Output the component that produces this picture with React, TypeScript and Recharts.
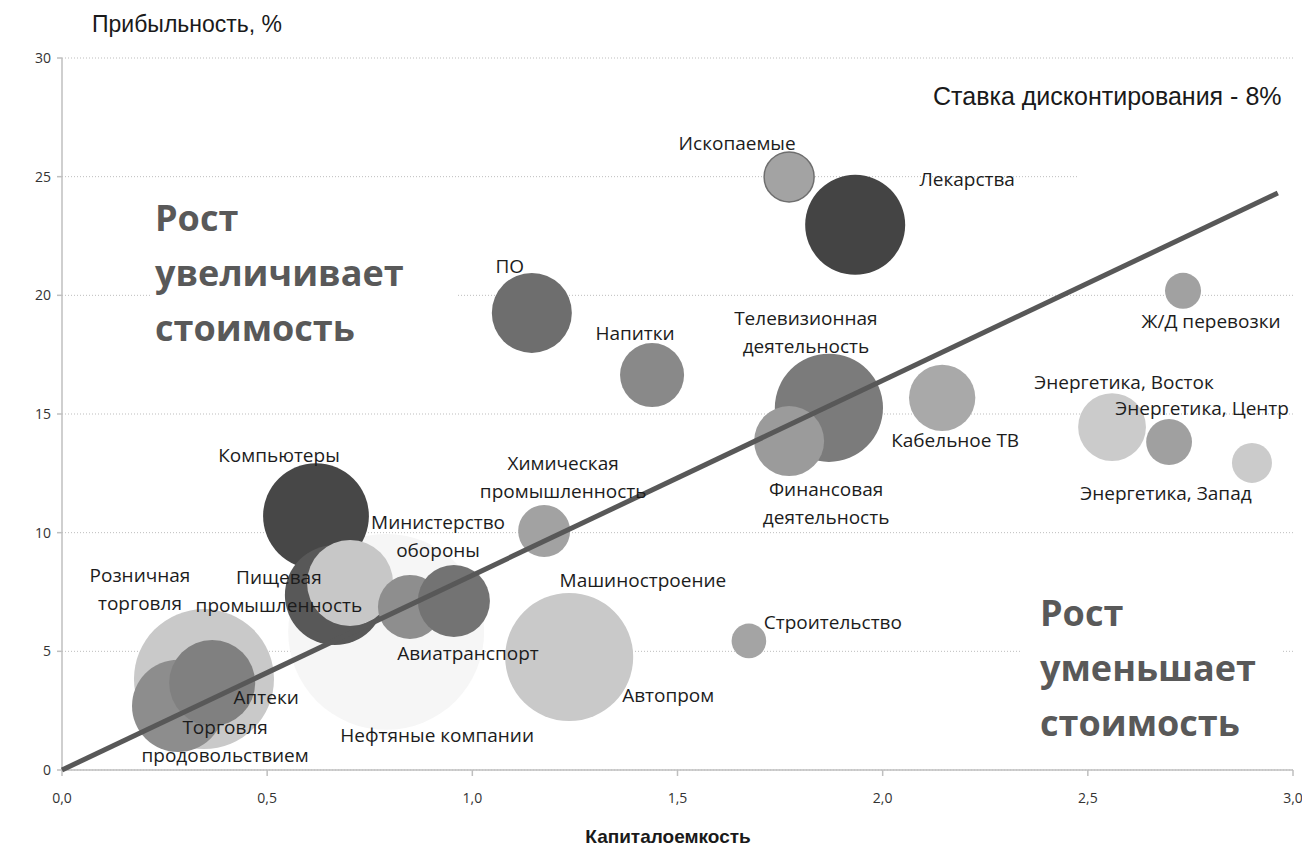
import { ScatterChart, Scatter, XAxis, YAxis, ZAxis, CartesianGrid } from 'recharts';

// Sectors in drawing order (later ones sit on top)
const SECTORS = [
  'Нефтяные компании',
  'Розничная торговля',
  'Торговля продовольствием',
  'Аптеки',
  'Компьютеры',
  'Пищевая промышленность',
  'Министерство обороны',
  'Авиатранспорт',
  'Машиностроение',
  'Автопром',
  'Строительство',
  'Химическая промышленность',
  'ПО',
  'Напитки',
  'Ископаемые',
  'Лекарства',
  'Телевизионная деятельность',
  'Финансовая деятельность',
  'Кабельное ТВ',
  'Ж/Д перевозки',
  'Энергетика, Восток',
  'Энергетика, Центр',
  'Энергетика, Запад',
];

// Капиталоемкость
const CAPITAL_INTENSITY = [
  0.79, 0.346, 0.283, 0.366, 0.619, 0.665, 0.702, 0.848, 0.955, 1.236, 1.674, 1.175,
  1.145, 1.438, 1.772, 1.933, 1.869, 1.772, 2.145, 2.732, 2.559, 2.698, 2.9,
];

// Прибыльность, %
const PROFITABILITY = [
  5.82, 3.83, 2.7, 3.67, 10.7, 7.37, 7.88, 6.87, 7.12, 4.76, 5.44, 10.07,
  19.26, 16.64, 24.99, 22.97, 15.26, 13.86, 15.68, 20.19, 14.45, 13.82, 12.94,
];

// bubble size (relative sector volume)
const VOLUME = [
  384, 196, 85, 74, 112, 100, 74, 41, 52, 164, 12, 27,
  64, 41, 25, 100, 117, 49, 44, 13, 46, 21, 16,
];

// break-even line for the 8% discount rate
const TREND_X = [0, 2.963];
const TREND_Y = [0, 24.31];

const X_TICKS = [0, 0.5, 1, 1.5, 2, 2.5, 3];
const Y_TICKS = [0, 5, 10, 15, 20, 25, 30];

const SHADES: Record<string, string> = {
  'Нефтяные компании': '#f6f6f6',
  'Розничная торговля': '#c9c9c9',
  'Торговля продовольствием': '#8d8d8d',
  'Аптеки': '#808080',
  'Компьютеры': '#474747',
  'Пищевая промышленность': '#585858',
  'Министерство обороны': '#c7c7c7',
  'Авиатранспорт': '#8e8e8e',
  'Машиностроение': '#737373',
  'Автопром': '#c9c9c9',
  'Строительство': '#a4a4a4',
  'Химическая промышленность': '#a2a2a2',
  'ПО': '#6e6e6e',
  'Напитки': '#898989',
  'Ископаемые': '#a3a3a3',
  'Лекарства': '#444444',
  'Телевизионная деятельность': '#7b7b7b',
  'Финансовая деятельность': '#9b9b9b',
  'Кабельное ТВ': '#a9a9a9',
  'Ж/Д перевозки': '#a1a1a1',
  'Энергетика, Восток': '#cbcbcb',
  'Энергетика, Центр': '#a0a0a0',
  'Энергетика, Запад': '#cbcbcb',
};

const OUTLINED = new Set(['Ископаемые']);

// label placement relative to the bubble centre (first line centre, px)
const LABELS: Record<string, { dx: number; dy: number; lines: string[] }> = {
  'Нефтяные компании': { dx: 51, dy: 103, lines: ['Нефтяные компании'] },
  'Розничная торговля': { dx: -64, dy: -104, lines: ['Розничная', 'торговля'] },
  'Торговля продовольствием': { dx: 47, dy: 21, lines: ['Торговля', 'продовольствием'] },
  'Аптеки': { dx: 54, dy: 14, lines: ['Аптеки'] },
  'Компьютеры': { dx: -37, dy: -61, lines: ['Компьютеры'] },
  'Пищевая промышленность': { dx: -56, dy: -18, lines: ['Пищевая', 'промышленность'] },
  'Министерство обороны': { dx: 88, dy: -61, lines: ['Министерство', 'обороны'] },
  'Авиатранспорт': { dx: 58, dy: 46, lines: ['Авиатранспорт'] },
  'Машиностроение': { dx: 189, dy: -21, lines: ['Машиностроение'] },
  'Автопром': { dx: 99, dy: 38, lines: ['Автопром'] },
  'Строительство': { dx: 84, dy: -19, lines: ['Строительство'] },
  'Химическая промышленность': { dx: 19, dy: -68, lines: ['Химическая', 'промышленность'] },
  'ПО': { dx: -22, dy: -47, lines: ['ПО'] },
  'Напитки': { dx: -17, dy: -42, lines: ['Напитки'] },
  'Ископаемые': { dx: -52, dy: -34, lines: ['Ископаемые'] },
  'Лекарства': { dx: 112, dy: -45, lines: ['Лекарства'] },
  'Телевизионная деятельность': { dx: -23, dy: -89, lines: ['Телевизионная', 'деятельность'] },
  'Финансовая деятельность': { dx: 37, dy: 48, lines: ['Финансовая', 'деятельность'] },
  'Кабельное ТВ': { dx: 13, dy: 42, lines: ['Кабельное ТВ'] },
  'Ж/Д перевозки': { dx: 28, dy: 31, lines: ['Ж/Д перевозки'] },
  'Энергетика, Восток': { dx: 12, dy: -45, lines: ['Энергетика, Восток'] },
  'Энергетика, Центр': { dx: 33, dy: -34, lines: ['Энергетика, Центр'] },
  'Энергетика, Запад': { dx: -86, dy: 30, lines: ['Энергетика, Запад'] },
};

const LABEL_FONT = '"Open Sans", "Noto Sans", sans-serif';
const ARIAL = '"Liberation Sans", Arial, sans-serif';

const sectors = SECTORS.map((name, i) => ({
  name,
  x: CAPITAL_INTENSITY[i],
  y: PROFITABILITY[i],
  z: VOLUME[i],
}));

const trend = TREND_X.map((x, i) => ({ x, y: TREND_Y[i], z: 0 }));

function Bubble(props: any) {
  const { cx, cy, width, payload } = props;
  const outlined = OUTLINED.has(payload.name);
  return (
    <circle
      cx={cx}
      cy={cy}
      r={width / 2}
      fill={SHADES[payload.name]}
      stroke={outlined ? '#6f6f6f' : 'none'}
      strokeWidth={outlined ? 1.5 : 0}
    />
  );
}

function SectorLabel(props: any) {
  const { cx, cy, payload } = props;
  const spec = LABELS[payload.name];
  if (!spec) return <g />;
  return (
    <text textAnchor="middle" fontFamily={LABEL_FONT} fontSize={19} fill="#1c1c1c">
      {spec.lines.map((line, i) => (
        <tspan key={i} x={cx + spec.dx} y={cy + spec.dy + i * 28} dy="0.35em">
          {line}
        </tspan>
      ))}
    </text>
  );
}

const growthText: React.CSSProperties = {
  position: 'absolute',
  background: '#fff',
  color: '#595959',
  fontFamily: LABEL_FONT,
  fontWeight: 700,
  fontSize: 36,
  lineHeight: '55px',
  whiteSpace: 'nowrap',
};

export default function App() {
  return (
    <div
      style={{
        position: 'absolute',
        left: 0,
        top: 0,
        width: 1302,
        height: 848,
        background: '#fff',
        overflow: 'hidden',
      }}
    >
      <ScatterChart width={1302} height={848} margin={{ top: 58, right: 9, bottom: 48, left: 0 }}>
        <CartesianGrid vertical={false} stroke="#bdbdbd" strokeDasharray="1 2" />
        <XAxis
          type="number"
          dataKey="x"
          domain={[0, 3]}
          ticks={X_TICKS}
          tickFormatter={(v: number) => v.toFixed(1).replace('.', ',')}
          axisLine={{ stroke: '#bfbfbf', strokeWidth: 1.5 }}
          tickLine={{ stroke: '#bfbfbf', strokeWidth: 1.5 }}
          tickSize={6}
          tickMargin={17}
          height={30}
          tick={{ fill: '#333', fontSize: 14, fontFamily: LABEL_FONT }}
        />
        <YAxis
          type="number"
          dataKey="y"
          domain={[0, 30]}
          ticks={Y_TICKS}
          width={62}
          axisLine={{ stroke: '#bfbfbf', strokeWidth: 1.5 }}
          tickLine={{ stroke: '#bfbfbf', strokeWidth: 1.5 }}
          tickSize={5}
          tickMargin={6}
          tick={{ fill: '#333', fontSize: 14, fontFamily: LABEL_FONT }}
        />
        <ZAxis type="number" dataKey="z" domain={[0, 400]} range={[0, 400 * 25 * Math.PI]} />
        <Scatter data={sectors} shape={Bubble} isAnimationActive={false} />
        <Scatter
          data={trend}
          line={{ stroke: '#585858', strokeWidth: 5 }}
          shape={() => <g />}
          isAnimationActive={false}
        />
        <Scatter data={sectors} shape={SectorLabel} isAnimationActive={false} />
      </ScatterChart>

      <div
        style={{
          position: 'absolute',
          left: 92,
          top: 11,
          fontFamily: ARIAL,
          fontSize: 23,
          color: '#1a1a1a',
          whiteSpace: 'nowrap',
        }}
      >
        Прибыльность, %
      </div>

      {/* callout for the discount rate */}
      <div style={{ position: 'absolute', left: 1078, top: 150, width: 220, height: 40, background: '#fff' }} />
      <div
        style={{
          position: 'absolute',
          left: 933,
          top: 82,
          fontFamily: ARIAL,
          fontSize: 25,
          color: '#1a1a1a',
          whiteSpace: 'nowrap',
          background: '#fff',
        }}
      >
        Ставка дисконтирования - 8%
      </div>

      <div style={{ ...growthText, left: 150, top: 190, width: 307, paddingLeft: 5, boxSizing: 'border-box' }}>
        Рост
        <br />
        увеличивает
        <br />
        стоимость
      </div>
      <div style={{ ...growthText, left: 1020, top: 585, width: 262, paddingLeft: 20, boxSizing: 'border-box' }}>
        Рост
        <br />
        уменьшает
        <br />
        стоимость
      </div>

      <div
        style={{
          position: 'absolute',
          left: 0,
          width: 1336,
          top: 826,
          textAlign: 'center',
          fontFamily: ARIAL,
          fontWeight: 700,
          fontSize: 19,
          color: '#1a1a1a',
        }}
      >
        Капиталоемкость
      </div>
    </div>
  );
}
